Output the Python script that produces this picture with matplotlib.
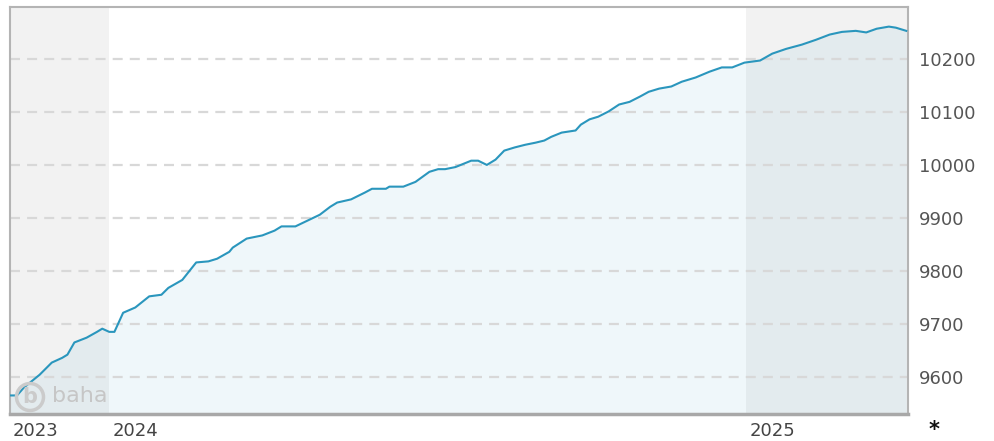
import numpy as np
import pandas as pd
import matplotlib
matplotlib.use("Agg")
import matplotlib.pyplot as plt
import matplotlib.transforms as mtransforms
from matplotlib.patches import Circle

# Kursverlauf (Stichtage und Werte)
dates = [
    "2023-11-05", "2023-11-09", "2023-11-13", "2023-11-22", "2023-11-29", "2023-12-05",
    "2023-12-08", "2023-12-12", "2023-12-19", "2023-12-25", "2023-12-28", "2024-01-01",
    "2024-01-04", "2024-01-09", "2024-01-16", "2024-01-24", "2024-01-31", "2024-02-04",
    "2024-02-12", "2024-02-20", "2024-02-27", "2024-03-03", "2024-03-10", "2024-03-12",
    "2024-03-20", "2024-03-29", "2024-04-05", "2024-04-09", "2024-04-17", "2024-04-24",
    "2024-05-01", "2024-05-07", "2024-05-11", "2024-05-19", "2024-05-27", "2024-05-31",
    "2024-06-08", "2024-06-10", "2024-06-18", "2024-06-25", "2024-07-03", "2024-07-08",
    "2024-07-12", "2024-07-18", "2024-07-24", "2024-07-27", "2024-07-31", "2024-08-05",
    "2024-08-10", "2024-08-15", "2024-08-21", "2024-08-27", "2024-09-02", "2024-09-07",
    "2024-09-11", "2024-09-17", "2024-09-25", "2024-09-28", "2024-10-03", "2024-10-08",
    "2024-10-14", "2024-10-20", "2024-10-26", "2024-11-01", "2024-11-06", "2024-11-12",
    "2024-11-19", "2024-11-25", "2024-12-03", "2024-12-11", "2024-12-18", "2024-12-24",
    "2024-12-31", "2025-01-09", "2025-01-16", "2025-01-24", "2025-02-02", "2025-02-10",
    "2025-02-18", "2025-02-25", "2025-03-05", "2025-03-11", "2025-03-17", "2025-03-24",
    "2025-03-28", "2025-04-03",
]
values = [
    9565, 9565, 9580, 9604, 9627, 9636,
    9642, 9665, 9674, 9685, 9691, 9685,
    9685, 9721, 9731, 9752, 9755, 9768,
    9783, 9816, 9818, 9823, 9836, 9844,
    9861, 9867, 9876, 9884, 9884, 9895,
    9906, 9921, 9929, 9935, 9948, 9955,
    9955, 9959, 9959, 9968, 9987, 9992,
    9992, 9996, 10004, 10008, 10008, 10000,
    10010, 10027, 10033, 10038, 10042, 10046,
    10053, 10061, 10065, 10076, 10086, 10091,
    10101, 10114, 10119, 10129, 10138, 10144,
    10148, 10157, 10165, 10176, 10184, 10184,
    10193, 10197, 10210, 10219, 10227, 10236,
    10246, 10251, 10253, 10250, 10257, 10261,
    10259, 10253,
]
y_ticks = [9600, 9700, 9800, 9900, 10000, 10100, 10200]
year_starts = ["2024-01-01", "2025-01-01"]
year_labels = ["2023", "2024", "2025"]

x = pd.to_datetime(dates)
x_start = pd.Timestamp("2023-11-05")
x_end = pd.Timestamp("2025-04-04")

line_col = "#2a96bd"
frame_col = "#b4b4b4"

fig = plt.figure(figsize=(9.94, 4.41), dpi=100)
ax = fig.add_axes([10 / 994, 27 / 441, 898 / 994, 407 / 441])

ax.set_xlim(x_start, x_end)
ax.set_ylim(9530, 10298)

# graue Hinterlegung fuer 2023 und 2025
ax.axvspan(x_start, pd.Timestamp(year_starts[0]), color="#f2f2f2", lw=0, zorder=0)
ax.axvspan(pd.Timestamp(year_starts[1]), x_end, color="#f2f2f2", lw=0, zorder=0)

ax.fill_between(x, values, 9500, color=line_col, alpha=0.075, lw=0, zorder=1)
for yv in y_ticks:
    ax.axhline(yv, color="#d8d8d8", lw=1.6, dashes=(4.5, 3.2), zorder=2)
ax.plot(x, values, color=line_col, lw=1.5, zorder=3)

# Logo unten links
ax.add_patch(Circle((30, 441 - 397), 13.5, transform=None, fill=False,
                    ec="#cbcbcb", lw=2.5, zorder=4))
fig.text(30 / 994, 1 - 397 / 441, "b", ha="center", va="center", fontsize=15,
         fontweight="bold", color="#cbcbcb", zorder=4)
fig.text(52 / 994, 1 - 396 / 441, "baha", ha="left", va="center", fontsize=16,
         color="#c6c6c6", zorder=4)

ax.yaxis.tick_right()
ax.set_yticks(y_ticks)
ax.set_yticklabels([str(v) for v in y_ticks])
ax.tick_params(axis="y", length=0, pad=8, labelsize=13, labelcolor="#555555")

ax.set_xticks([x_start] + [pd.Timestamp(d) for d in year_starts])
ax.set_xticklabels(year_labels)
ax.tick_params(axis="x", length=0, pad=6, labelsize=13, labelcolor="#444444")
shift = mtransforms.ScaledTranslation(3 / 100, 0, fig.dpi_scale_trans)
for lab in ax.get_xticklabels():
    lab.set_horizontalalignment("left")
    lab.set_transform(lab.get_transform() + shift)

for side in ["left", "right", "top"]:
    ax.spines[side].set_color(frame_col)
    ax.spines[side].set_linewidth(1.5)
ax.spines["bottom"].set_color("#a8a8a8")
ax.spines["bottom"].set_linewidth(2.5)

fig.text(934 / 994, 0.5 / 441, "*", ha="center", va="bottom", fontsize=15,
         fontweight="bold", color="#111111")

fig.savefig("out.png", dpi=100)
